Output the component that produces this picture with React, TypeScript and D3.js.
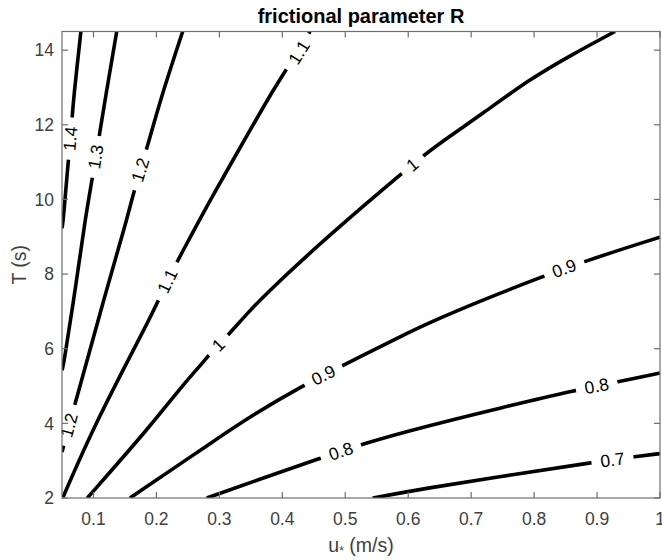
import React from 'react';
import * as d3 from 'd3';

type Pt = [number, number];

const WIDTH = 662;
const HEIGHT = 559;
const PLOT = { left: 62, right: 660, top: 31.5, bottom: 498 };
const FONT = '"Liberation Sans", Arial, Helvetica, sans-serif';

const X_DOMAIN: Pt = [0.05, 1];
const Y_DOMAIN: Pt = [2, 14.5];
const X_TICKS = [0.1, 0.2, 0.3, 0.4, 0.5, 0.6, 0.7, 0.8, 0.9, 1];
const Y_TICKS = [2, 4, 6, 8, 10, 12, 14];

// contour levels of R, left to right
const LEVELS = [1.4, 1.3, 1.2, 1.1, 1, 0.9, 0.8, 0.7];

// iso-lines as [u*, T] pairs
const R_140: Pt[] = [[0.080, 14.5], [0.068, 12.65], [0.0664, 12.21], [0.060, 11.05], [0.0521, 9.44], [0.05, 9.23]];
const R_130: Pt[] = [[0.1369, 14.5], [0.1183, 12.65], [0.1093, 11.72], [0.0981, 10.56], [0.0865, 9.44], [0.0734, 7.84], [0.0521, 5.51], [0.05, 5.43]];
const R_120: Pt[] = [[0.2417, 14.5], [0.2057, 12.65], [0.1845, 11.33], [0.1644, 10.24], [0.1528, 9.44], [0.1159, 7.30], [0.0813, 5.16], [0.0707, 4.53], [0.0521, 3.37], [0.05, 3.23]];
const R_110: Pt[] = [[0.051, 2], [0.1051, 4.09], [0.1898, 6.81], [0.2030, 7.30], [0.2322, 8.32], [0.2533, 8.97], [0.2851, 9.98], [0.3487, 11.85], [0.3804, 12.79], [0.4070, 13.50], [0.4440, 14.5]];
const R_100: Pt[] = [[0.0902, 2], [0.1898, 3.91], [0.2427, 5.05], [0.2772, 5.69], [0.2851, 5.87], [0.3116, 6.32], [0.3487, 7.03], [0.3752, 7.48], [0.4281, 8.34], [0.5393, 9.98], [0.5922, 10.73], [0.6214, 11.14], [0.6664, 11.70], [0.7140, 12.25], [0.7935, 13.23], [0.8622, 13.90], [0.9285, 14.5]];
const R_090: Pt[] = [[0.1580, 2], [0.3010, 3.64], [0.3487, 4.18], [0.4333, 5.02], [0.4969, 5.56], [0.5869, 6.32], [0.6346, 6.71], [0.7247, 7.35], [0.8146, 7.94], [0.8808, 8.35], [1.0, 8.99]];
const R_080: Pt[] = [[0.2799, 2], [0.3752, 2.57], [0.4599, 3.06], [0.5261, 3.45], [0.6346, 3.95], [0.7458, 4.41], [0.8649, 4.89], [0.9337, 5.11], [1.0, 5.35]];
const R_070: Pt[] = [[0.5436, 2], [0.6346, 2.28], [0.7669, 2.63], [0.8915, 2.95], [0.9576, 3.10], [1.0, 3.19]];

// where the inline labels sit on each line
const L_140: Pt[] = [[0.0632, 11.63]];
const L_130: Pt[] = [[0.1037, 11.14]];
const L_120: Pt[] = [[0.1745, 10.79], [0.0614, 3.95]];
const L_110: Pt[] = [[0.2176, 7.81], [0.4265, 13.94]];
const L_100: Pt[] = [[0.2984, 6.10], [0.6068, 10.93]];
const L_090: Pt[] = [[0.4651, 5.29], [0.8478, 8.15]];
const L_080: Pt[] = [[0.4930, 3.25], [0.8994, 5.00]];
const L_070: Pt[] = [[0.9245, 3.02]];

const LINES = [R_140, R_130, R_120, R_110, R_100, R_090, R_080, R_070];
const LABELS = [L_140, L_130, L_120, L_110, L_100, L_090, L_080, L_070];

const LABEL_SIZE = 17.5;

/**
 * Rough text width for digits and dots
 * @param  {string} s    text
 * @param  {number} size font size
 * @return {number}      width in px
 */
function textWidth(s: string, size: number) {
  let w = 0;
  for (const c of s) w += c === '.' ? 0.278 : 0.556;
  return w * size;
}

/**
 * Direction of the polyline nearest to a point, kept readable
 * @param  {Array} pts screen points
 * @param  {number} px point x
 * @param  {number} py point y
 * @return {number}    angle in degrees
 */
function angleAt(pts: Pt[], px: number, py: number) {
  let best = Infinity;
  let ang = 0;
  for (let i = 0; i < pts.length - 1; i++) {
    const [x0, y0] = pts[i];
    const [x1, y1] = pts[i + 1];
    const dx = x1 - x0, dy = y1 - y0;
    const len2 = dx * dx + dy * dy || 1;
    const t = Math.max(0, Math.min(1, ((px - x0) * dx + (py - y0) * dy) / len2));
    const qx = x0 + t * dx - px, qy = y0 + t * dy - py;
    const d = qx * qx + qy * qy;
    if (d < best) {
      best = d;
      ang = Math.atan2(dy, dx) * 180 / Math.PI;
    }
  }
  if (ang > 90) ang -= 180;
  if (ang <= -90) ang += 180;
  return ang;
}

export default function App() {
  const x = d3.scaleLinear().domain(X_DOMAIN).range([PLOT.left, PLOT.right]);
  const y = d3.scaleLinear().domain(Y_DOMAIN).range([PLOT.bottom, PLOT.top]);
  const line = d3.line<Pt>().x(d => x(d[0])).y(d => y(d[1])).curve(d3.curveBasis);

  const labels = LEVELS.flatMap((lvl, i) => {
    const screen: Pt[] = LINES[i].map(d => [x(d[0]), y(d[1])]);
    return LABELS[i].map((p, j) => {
      const px = x(p[0]);
      const py = y(p[1]);
      const text = String(lvl);
      return { key: `${i}-${j}`, px, py, text, angle: angleAt(screen, px, py), w: textWidth(text, LABEL_SIZE) };
    });
  });

  const pw = PLOT.right - PLOT.left;
  const ph = PLOT.bottom - PLOT.top;
  const tick = 6;
  const axisColor = '#6e6e6e';
  const textColor = '#404040';

  return <svg width={WIDTH} height={HEIGHT} style={{ position: 'absolute', left: 0, top: 0, background: '#fff' }} fontFamily={FONT}>
    <defs>
      <clipPath id='plot'>
        <rect x={PLOT.left} y={PLOT.top} width={pw} height={ph} />
      </clipPath>
      <mask id='gaps' maskUnits='userSpaceOnUse' x={0} y={0} width={WIDTH} height={HEIGHT}>
        <rect x={0} y={0} width={WIDTH} height={HEIGHT} fill='#fff' />
        { labels.map(l =>
          <rect key={l.key} x={-(l.w + 18) / 2} y={-8} width={l.w + 18} height={16} fill='#000'
            transform={`translate(${l.px},${l.py}) rotate(${l.angle})`} />
        )}
      </mask>
    </defs>

    <g clipPath='url(#plot)'>
      <g mask='url(#gaps)'>
        { LINES.map((pts, i) =>
          <path key={i} d={line(pts) || ''} fill='none' stroke='#000' strokeWidth={3.6} strokeLinejoin='round' />
        )}
      </g>
    </g>

    { labels.map(l =>
      <text key={l.key} transform={`translate(${l.px},${l.py}) rotate(${l.angle})`} textAnchor='middle'
        dominantBaseline='central' fontSize={LABEL_SIZE} fill='#000'>{l.text}</text>
    )}

    <g>
      <rect x={PLOT.left} y={PLOT.top} width={pw} height={ph} fill='none' stroke={axisColor} strokeWidth={1.2} />
      { X_TICKS.map(t =>
        <g key={t}>
          <line x1={x(t)} x2={x(t)} y1={PLOT.bottom} y2={PLOT.bottom - tick} stroke={axisColor} strokeWidth={1.2} />
          <line x1={x(t)} x2={x(t)} y1={PLOT.top} y2={PLOT.top + tick} stroke={axisColor} strokeWidth={1.2} />
          <text x={x(t)} y={525} textAnchor='middle' fontSize={17.5} fill={textColor}>{String(t)}</text>
        </g>
      )}
      { Y_TICKS.map(t =>
        <g key={t}>
          <line x1={PLOT.left} x2={PLOT.left + tick} y1={y(t)} y2={y(t)} stroke={axisColor} strokeWidth={1.2} />
          <line x1={PLOT.right} x2={PLOT.right - tick} y1={y(t)} y2={y(t)} stroke={axisColor} strokeWidth={1.2} />
          <text x={54} y={y(t)} dy='0.36em' textAnchor='end' fontSize={17.5} fill={textColor}>{String(t)}</text>
        </g>
      )}
    </g>

    <text x={(PLOT.left + PLOT.right) / 2} y={23} textAnchor='middle' fontSize={20} fontWeight='bold' fill='#000'>frictional parameter R</text>
    <text x={(PLOT.left + PLOT.right) / 2} y={552} textAnchor='middle' fontSize={19.5} fill={textColor}>
      <tspan>u</tspan>
      <tspan fontSize={12} dy={3}>*</tspan>
      <tspan dy={-3}> (m/s)</tspan>
    </text>
    <text transform={`translate(26,${(PLOT.top + PLOT.bottom) / 2}) rotate(-90)`} textAnchor='middle' fontSize={19.5} fill={textColor}>T (s)</text>
  </svg>;
}
